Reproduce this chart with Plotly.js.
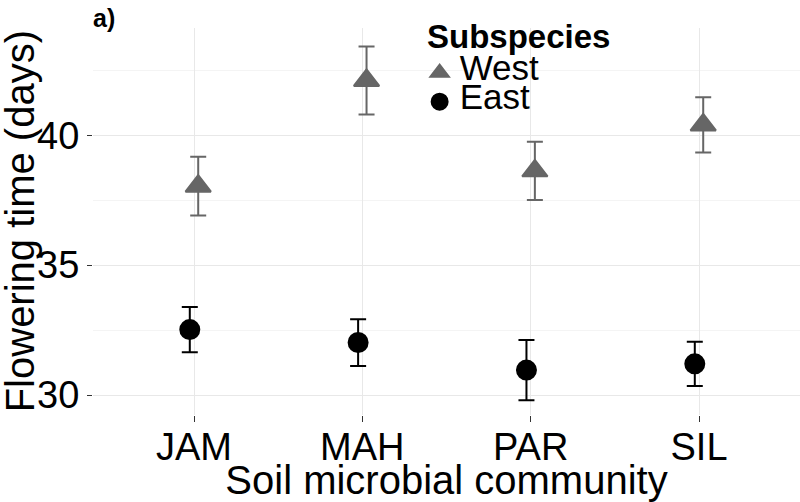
<!DOCTYPE html>
<html><head><meta charset="utf-8">
<script src="https://cdn.plot.ly/plotly-3.0.1.min.js"></script>
<style>html,body{margin:0;padding:0;background:#fff}#chart{width:800px;height:502px}</style>
</head><body><div id="chart"></div>
<script>
const categories = ['JAM', 'MAH', 'PAR', 'SIL'];
const westMean = [38.04, 42.11, 38.63, 40.40];
const westSE = [1.13, 1.31, 1.12, 1.06];
const eastMean = [32.52, 32.02, 30.96, 31.20];
const eastSE = [0.87, 0.90, 1.16, 0.85];
const yTickVals = [30, 35, 40];
const seriesNames = ['West', 'East'];
const legendTitle = 'Subspecies';
const xTitle = 'Soil microbial community';
const yTitle = 'Flowering time (days)';

const FONT = 'Liberation Sans, Arial, sans-serif';
const westColor = '#666666';
const eastColor = '#000000';

const east = {
  type: 'scatter', mode: 'markers', name: '<span style="font-size:35px">' + seriesNames[1] + '</span>',
  x: categories, y: eastMean, offsetgroup: 'east', legendrank: 2,
  marker: {symbol: 'circle', size: 19, color: eastColor, line: {width: 2, color: eastColor}},
  error_y: {type: 'data', array: eastSE, visible: true, color: eastColor, thickness: 2, width: 8}
};
const west = {
  type: 'scatter', mode: 'markers', name: '<span style="font-size:35px">' + seriesNames[0] + '</span>',
  x: categories, y: westMean, offsetgroup: 'west', legendrank: 1,
  marker: {symbol: 'triangle-up', size: 22, color: westColor, line: {width: 2, color: westColor}},
  error_y: {type: 'data', array: westSE, visible: true, color: westColor, thickness: 2, width: 8}
};

const layout = {
  width: 800, height: 502,
  margin: {l: 93, r: 0, t: 28, b: 87},
  paper_bgcolor: '#ffffff', plot_bgcolor: '#ffffff',
  font: {family: FONT, color: '#000000'},
  scattermode: 'group', scattergap: 0.9,
  showlegend: true,
  legend: {
    x: 0.462, xanchor: 'left', y: 0.935, yanchor: 'top',
    bgcolor: 'rgba(0,0,0,0)', borderwidth: 0,
    font: {family: FONT, size: 20, color: '#000000'},
    traceorder: 'normal'
  },
  xaxis: {
    type: 'category', categoryorder: 'array', categoryarray: categories,
    range: [-0.6, 3.6], showgrid: true, gridcolor: '#e8e8e8', gridwidth: 1,
    showline: false, zeroline: false,
    ticks: 'outside', ticklen: 6, tickcolor: '#333333', tickwidth: 1,
    ticklabelstandoff: -8,
    tickfont: {family: FONT, size: 38, color: '#000000'},
    title: {text: xTitle, font: {family: FONT, size: 40, color: '#000000'}, standoff: 0}
  },
  yaxis: {
    range: [29.23, 44.13], tickvals: yTickVals, ticktext: yTickVals.map(String),
    showgrid: true, gridcolor: '#e8e8e8', gridwidth: 1,
    minor: {dtick: 2.5, tick0: 30, showgrid: true, gridcolor: '#f4f4f4', gridwidth: 1, ticks: ''},
    showline: false, zeroline: false,
    ticks: 'outside', ticklen: 5, tickcolor: '#333333', tickwidth: 1,
    tickfont: {family: FONT, size: 38, color: '#000000'}
  },
  annotations: [{
    text: '<b>a)</b>', xref: 'paper', yref: 'paper', x: -0.003, y: 1.026,
    xanchor: 'left', yanchor: 'middle', showarrow: false,
    font: {family: FONT, size: 25, color: '#000000'}
  }, {
    text: '<b>' + legendTitle + '</b>', xref: 'paper', yref: 'paper', x: 0.469, y: 0.977,
    xanchor: 'left', yanchor: 'middle', showarrow: false,
    font: {family: FONT, size: 33, color: '#000000'}
  }, {
    text: yTitle, xref: 'paper', yref: 'paper', x: -0.1035, y: 0.5,
    xanchor: 'center', yanchor: 'middle', textangle: -90, showarrow: false,
    font: {family: FONT, size: 40, color: '#000000'}
  }]
};

Plotly.newPlot('chart', [east, west], layout, {displayModeBar: false, staticPlot: true});
</script></body></html>
